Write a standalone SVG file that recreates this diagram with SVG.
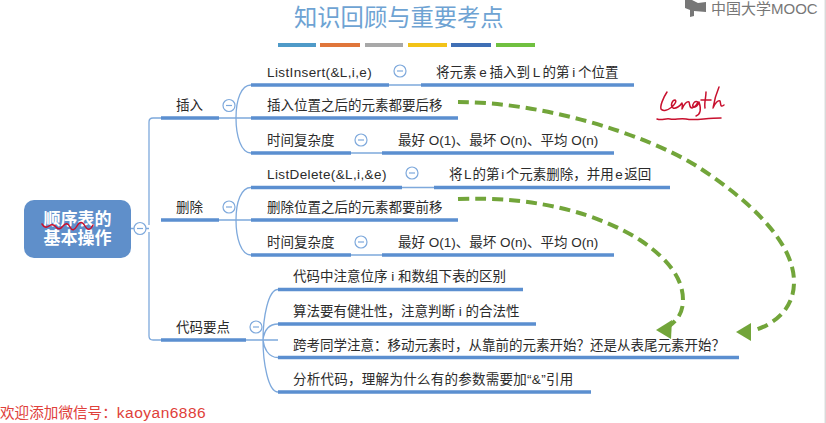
<svg xmlns="http://www.w3.org/2000/svg" width="826" height="423" viewBox="0 0 826 423">
<style>
text{font-family:"Liberation Sans","Noto Sans CJK SC",sans-serif;font-size:13.5px;fill:#2b2b2b}
.bar{stroke:#5b8fd0;stroke-width:3.4;fill:none}
.thin{stroke:#7ea9dc;stroke-width:1.3;fill:none}
.tog{fill:#fff;stroke:#7ea9dc;stroke-width:1.2}
.togm{stroke:#7ea9dc;stroke-width:1.2}
.dash{stroke:#72a53a;stroke-width:4;fill:none;stroke-dasharray:11 6}
.head{fill:#72a53a}
.hand{stroke:#c8102e;stroke-width:1.5;fill:none;stroke-linecap:round;stroke-linejoin:round}
.code{letter-spacing:.38px}
.root{font-size:17px;font-weight:bold;fill:#fff}
</style>
<defs>
<g id="toggle"><circle class="tog" r="6"/><path class="togm" d="M-3 0H3"/></g>
</defs>
<rect width="826" height="423" fill="#fff"/>
<path d="M825.2 0V423" stroke="#c9c9c9" stroke-width="1"/>
<g id="title">
<text x="294" y="26" style="font-size:23.300px;fill:#6ea3d3">知识回顾与重要考点</text>
<rect x="278" y="43" width="38" height="4" fill="#4f9ac8"/>
<rect x="320" y="43" width="40" height="4" fill="#e0763a"/>
<rect x="365" y="43" width="38" height="4" fill="#a8a8a8"/>
<rect x="408" y="43" width="39" height="4" fill="#f2c318"/>
<rect x="451" y="43" width="40" height="4" fill="#3f6fb5"/>
<rect x="496" y="43" width="39" height="4" fill="#70c040"/>
</g>
<g id="logo">
<path d="M685 0H692L698 3L706 2V12L694 11V16L690 17V10L685 8Z" fill="#777"/>
<text x="711" y="14" style="font-size:15px;fill:#777">中国大学MOOC</text>
</g>
<g id="connectors">
<path class="thin" d="M131 228.500H149M149 225V122Q149 118 153 118H161M149 232V336Q149 340 153 340H161"/>
<path class="thin" d="M219 118H251M219 220H251M246 340H278"/>
<path class="thin" d="M251 85C241 85 236 100 236 118C236 136 241 153 251 153"/>
<path class="thin" d="M251 187.500C241 187.500 236 202 236 220C236 238 241 255 251 255"/>
<path class="thin" d="M278 289.500C268 289.500 263 318 263 340C263 362 268 392 278 392M263 340C264 332 268 324 278 324M263 340C264 348 268 357.500 278 357.500"/>
<path class="thin" d="M389 85H421M351 153H382M402 187.500H434M351 255H382"/>
<path class="bar" d="M161 118H219M161 220H219M161 340H246"/>
<path class="bar" d="M251 85H389M421 85H634M251 118H458M251 153H351M382 153H614"/>
<path class="bar" d="M251 187.500H402M434 187.500H670M251 220H458M251 255H351M382 255H614"/>
<path class="bar" d="M278 289.500H523M278 324H536M278 357.500H739M278 392H591"/>
<path class="dash" d="M458 102C540 102 640 132 695 165C745 197 794 240 794 282C794 312 770 326 752 331"/>
<path class="head" d="M736 332L751 323L751 341Z"/>
<path class="dash" d="M458 199C540 196 600 215 640 240C670 260 683 280 683 300C683 312 678 320 668 327"/>
<path class="head" d="M656 330L672 320L671 339Z"/>
</g>
<g id="root">
<rect x="24" y="200" width="107" height="58" rx="10" fill="#5f8fca"/>
<text class="root" x="77.500" y="225" text-anchor="middle">顺序表的</text>
<text class="root" x="77.500" y="244" text-anchor="middle">基本操作</text>
<path class="hand" d="M42 224Q45 229 49 226T56 227T63 226T70 227T77 226T85 226T93 225"/>
<use href="#toggle" x="140" y="228.500"/>
</g>
<g id="n-insert"><text x="176" y="110">插入</text><use href="#toggle" x="229" y="105.500"/></g>
<g id="n-delete"><text x="176" y="212">删除</text><use href="#toggle" x="229" y="207"/></g>
<g id="n-code"><text x="176" y="332">代码要点</text><use href="#toggle" x="256" y="327"/></g>
<g id="n-i1"><text class="code" x="267" y="77">ListInsert(&amp;L,i,e)</text><use href="#toggle" x="400" y="71"/><text x="436" y="77" word-spacing="-1">将元素 e 插入到 L 的第 i 个位置</text></g>
<g id="n-i2"><text x="267" y="110">插入位置之后的元素都要后移</text></g>
<g id="n-i3"><text x="267" y="145">时间复杂度</text><use href="#toggle" x="361" y="140"/><text x="398" y="145">最好 O(1)、最坏 O(n)、平均 O(n)</text></g>
<g id="n-d1"><text class="code" x="267" y="179">ListDelete(&amp;L,i,&amp;e)</text><use href="#toggle" x="412" y="173"/><text x="449" y="179" word-spacing="-2.2">将 L 的第 i 个元素删除，并用 e 返回</text></g>
<g id="n-d2"><text x="267" y="212">删除位置之后的元素都要前移</text></g>
<g id="n-d3"><text x="267" y="247">时间复杂度</text><use href="#toggle" x="361" y="242"/><text x="398" y="247">最好 O(1)、最坏 O(n)、平均 O(n)</text></g>
<g id="n-c1"><text x="293" y="281">代码中注意位序 i 和数组下表的区别</text></g>
<g id="n-c2"><text x="293" y="316">算法要有健壮性，注意判断 i 的合法性</text></g>
<g id="n-c3"><text x="293" y="350">跨考同学注意：移动元素时，从靠前的元素开始？还是从表尾元素开始？</text></g>
<g id="n-c4"><text x="293" y="384" letter-spacing=".27">分析代码，理解为什么有的参数需要加“&amp;”引用</text></g>
<g id="note"><text x="0" y="418" style="font-size:14.600px;fill:#e0403a">欢迎添加微信号：<tspan style="font-size:15.500px;fill:#e0403a;letter-spacing:.5px">kaoyan6886</tspan></text></g>
<g id="scribble">
<path class="hand" d="M667 92C663 98 660 106 661 109C663 112 668 110 672 107C675 104 677 101 675 100C672 100 670 106 673 108C676 109 680 106 682 103C683 106 682 108 682 109C684 104 687 101 689 102C690 104 689 108 692 108C695 107 697 104 698 102C695 100 692 104 693 107C696 108 698 105 699 102C701 108 701 114 696 116M706 92C706 98 704 103 705 108M701 100H711M719 87C716 94 714 102 713 108C715 103 718 100 720 101C721 104 720 108 724 105"/>
<path class="hand" d="M657 119C662 121 665 118 670 119C675 120 680 118 686 119C695 121 705 118 721 118"/>
</g>
</svg>
